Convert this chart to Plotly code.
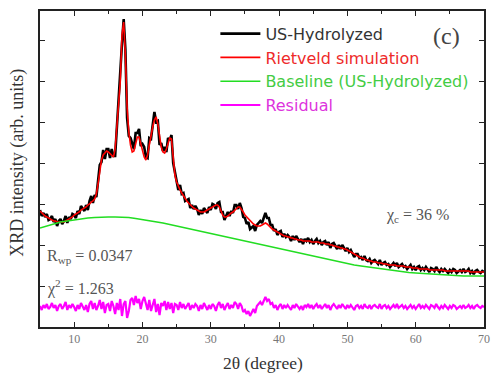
import numpy as np
import plotly.graph_objects as go

# 2-theta grid (degrees), step 0.25
two_theta = np.round(np.arange(5.0, 70.0001, 0.25), 2)

# Rietveld calculated profile (arb. units), 4 values per degree from 5.00
calc = [
    116, 114, 112, 111,   # 5
    110, 109, 108, 107,   # 6
    106, 106, 105, 105,   # 7
    105, 105, 105, 106,   # 8
    107, 108, 109, 110,   # 9
    112, 113, 114, 115,   # 10
    117, 118, 119, 120,   # 11
    122, 123, 125, 126,   # 12
    128, 133, 143, 155,   # 13
    167, 172, 174, 176,   # 14
    175, 173, 172, 170,   # 15
    178, 198, 225, 245,   # 16
    292, 305, 272, 220,   # 17
    195, 182, 175, 176,   # 18
    183, 190, 190, 183,   # 19
    177, 170, 167, 172,   # 20
    182, 192, 200, 207,   # 21
    210, 203, 190, 180,   # 22
    175, 174, 178, 184,   # 23
    189, 188, 170, 152,   # 24
    145, 140, 137, 134,   # 25
    131, 128, 126, 124,   # 26
    122, 120, 119, 118,   # 27
    117, 116, 115, 115,   # 28
    115, 116, 117, 118,   # 29
    119, 120, 121, 122,   # 30
    122, 120, 116, 112,   # 31
    110, 110, 111, 113,   # 32
    114, 115, 117, 119,   # 33
    120, 120, 118, 115,   # 34
    112, 110, 109, 107,   # 35
    105, 103, 102, 101,   # 36
    101, 101, 102, 103,   # 37
    104, 103, 101, 99,    # 38
    98, 97, 96, 95,       # 39
    94, 93, 92, 91,       # 40
    91, 90, 90, 89,       # 41
    89, 88, 88, 87,       # 42
    87, 87, 86, 86,       # 43
    86, 86, 86, 85,       # 44
    85, 85, 85, 85,       # 45
    84, 84, 84, 83,       # 46
    83, 83, 82, 82,       # 47
    81, 81, 80, 80,       # 48
    79, 79, 78, 78,       # 49
    77, 76, 75, 74,       # 50
    73, 72, 71, 70,       # 51
    69, 69, 68, 67,       # 52
    67, 66, 66, 65,       # 53
    65, 65, 64, 64,       # 54
    64, 63, 63, 63,       # 55
    62, 62, 62, 62,       # 56
    62, 61, 61, 61,       # 57
    61, 61, 60, 60,       # 58
    60, 60, 59, 59,       # 59
    59, 59, 58, 58,       # 60
    58, 58, 58, 58,       # 61
    57, 57, 57, 57,       # 62
    57, 57, 57, 57,       # 63
    57, 56, 56, 56,       # 64
    56, 56, 56, 56,       # 65
    56, 56, 56, 56,       # 66
    56, 56, 56, 56,       # 67
    55, 55, 55, 55,       # 68
    55, 55, 55, 55,       # 69
    55,                   # 70
]

# Observed minus calculated (arb. units), same grid
difference = [
    1, -3, 2, -1,      # 5
    3, -2, 0, 4,       # 6
    -1, 2, -4, 1,      # 7
    3, -2, 1, 5,       # 8
    -3, 2, -1, 3,      # 9
    0, -4, 2, -2,      # 10
    4, 1, -3, 2,       # 11
    -5, 3, 6, -2,      # 12
    4, -3, 1, 7,       # 13
    -2, 5, -6, 2,      # 14
    3, -4, 6, 1,       # 15
    -7, 4, -3, 8,      # 16
    -9, 3, 6, -11,     # 17
    -4, 7, 9, 2,       # 18
    11, 4, 8, -2,      # 19
    6, 10, 3, -3,      # 20
    7, -4, 2, 8,       # 21
    -5, 3, -8, 4,      # 22
    1, 6, -3, 5,       # 23
    -2, 4, -6, 3,      # 24
    2, -3, 5, -1,      # 25
    3, -2, 1, 4,       # 26
    -3, 2, -1, 3,      # 27
    1, -4, 2, -2,      # 28
    4, 0, -3, 2,       # 29
    -2, 3, 1, -4,      # 30
    2, 5, -1, 3,       # 31
    -3, 1, 4, -2,      # 32
    2, -1, 5, 3,       # 33
    -2, 4, 1, -5,      # 34
    -3, -7, -4, -9,    # 35
    -5, -2, -6, 1,     # 36
    3, 5, 2, 7,        # 37
    10, 6, 8, 3,       # 38
    4, -1, 2, -3,      # 39
    1, 3, -2, 2,       # 40
    -1, 2, 0, -3,      # 41
    2, -1, 3, 1,       # 42
    -2, 1, -3, 2,      # 43
    0, 3, -1, 2,       # 44
    -2, 1, 3, -1,      # 45
    2, -2, 1, 3,       # 46
    -1, 2, -3, 1,      # 47
    3, 0, -2, 2,       # 48
    -1, 3, 1, -2,      # 49
    2, -1, 2, 0,       # 50
    -3, 1, 2, -1,      # 51
    1, -2, 3, 0,       # 52
    -1, 2, -2, 1,      # 53
    2, 0, -1, 3,       # 54
    -2, 1, 2, -1,      # 55
    1, -2, 0, 2,       # 56
    -1, 3, -1, 1,      # 57
    2, -1, 1, -2,      # 58
    0, 2, -1, 1,       # 59
    -2, 1, 3, -1,      # 60
    1, -1, 2, 0,       # 61
    -2, 2, 1, -1,      # 62
    3, 0, -2, 1,       # 63
    -1, 2, 0, -2,      # 64
    1, -1, 2, 1,       # 65
    -2, 0, 1, -1,      # 66
    2, -1, 0, 2,       # 67
    -1, 1, -2, 1,      # 68
    2, 0, -1, 1,       # 69
    0,                 # 70
]

# Baseline (amorphous background), one value per degree 5..70
baseline_theta = list(range(5, 71))
baseline = [
    99, 101, 103, 105, 106, 107, 108.5, 109, 109.5, 110,
    110, 110, 110, 109.5, 108.5, 107.5, 106.5, 105.5, 104, 102.5,
    101, 99.5, 98, 96, 94.5, 93, 91.5, 90, 88.5, 87,
    85.5, 84, 82.5, 81, 80, 78.5, 77, 75.5, 74, 72.5,
    71, 69.5, 68, 66.5, 65, 63.5, 62, 61, 60, 59,
    58, 57, 56, 55, 54.5, 54, 53.5, 53, 52.5, 52,
    51.5, 51.5, 51, 51, 51, 51,
]

residual_offset = 20

assert len(calc) == len(two_theta) == len(difference)
assert len(baseline) == len(baseline_theta)

calc_arr = np.array(calc, dtype=float)
diff_arr = np.array(difference, dtype=float)
observed = calc_arr + diff_arr
residual = diff_arr + residual_offset

serif = "Liberation Serif, Times New Roman, serif"
sans = "DejaVu Sans, Arial, sans-serif"

fig = go.Figure()
fig.add_trace(go.Scatter(
    x=two_theta, y=observed, mode="lines",
    line=dict(color="#000000", width=2.6),
    name="<span style='color:#333333'>US-Hydrolyzed</span>"))
fig.add_trace(go.Scatter(
    x=two_theta, y=calc_arr, mode="lines",
    line=dict(color="#ff0000", width=1.6),
    name="<span style='color:#ee2a2a'>Rietveld simulation</span>"))
fig.add_trace(go.Scatter(
    x=baseline_theta, y=baseline, mode="lines",
    line=dict(color="#22dd22", width=1.6),
    name="<span style='color:#44cc44'>Baseline (US-Hydrolyzed)</span>"))
fig.add_trace(go.Scatter(
    x=two_theta, y=residual, mode="lines",
    line=dict(color="#ff00ff", width=2.2),
    name="<span style='color:#dd33dd'>Residual</span>"))

axis_common = dict(
    showline=True, linecolor="#222222", linewidth=1.5, mirror="ticks",
    ticks="inside", tickcolor="#222222", tickwidth=1.3, ticklen=5,
    showgrid=False, zeroline=False,
)

fig.update_xaxes(
    range=[5, 70], tick0=0, dtick=10,
    tickfont=dict(family=serif, size=12, color="#777777"),
    ticklabeloverflow="allow",
    minor=dict(dtick=5, ticks="inside", ticklen=3, tickcolor="#222222", tickwidth=1.2),
    **axis_common)
fig.update_yaxes(
    range=[0, 316], tick0=0, dtick=41, showticklabels=False,
    **axis_common)

# axis titles
fig.add_annotation(x=0.503, y=-0.114, xref="paper", yref="paper", xanchor="center", yanchor="middle",
                   text="2θ (degree)", showarrow=False,
                   font=dict(family=serif, size=17.5, color="#333333"))
fig.add_annotation(x=-0.05, y=0.519, xref="paper", yref="paper", xanchor="center", yanchor="middle",
                   text="XRD intensity (arb. units)", showarrow=False, textangle=-90,
                   font=dict(family=serif, size=18, color="#333333"))

fig.add_annotation(x=0.012, y=0.222, xref="paper", yref="paper", xanchor="left", yanchor="middle",
                   text="R<sub>wp</sub> = 0.0347", showarrow=False,
                   font=dict(family=serif, size=16, color="#555555"))
fig.add_annotation(x=0.012, y=0.126, xref="paper", yref="paper", xanchor="left", yanchor="middle",
                   text="χ<sup>2</sup> = 1.263", showarrow=False,
                   font=dict(family=serif, size=16, color="#555555"))
fig.add_annotation(x=0.775, y=0.352, xref="paper", yref="paper", xanchor="left", yanchor="middle",
                   text="χ<sub>c</sub> = 36 %", showarrow=False,
                   font=dict(family=serif, size=16, color="#555555"))
fig.add_annotation(x=0.915, y=0.92, xref="paper", yref="paper", xanchor="center", yanchor="middle",
                   text="(c)", showarrow=False,
                   font=dict(family=serif, size=24, color="#444444"))

fig.update_layout(
    width=492, height=373,
    margin=dict(l=40, r=2, t=11, b=46),
    paper_bgcolor="white", plot_bgcolor="white",
    showlegend=True,
    legend=dict(x=0.395, y=0.982, xanchor="left", yanchor="top",
                bgcolor="rgba(0,0,0,0)", borderwidth=0,
                font=dict(family=sans, size=16), tracegroupgap=0,
                itemwidth=40),
)

fig.write_html("out.html")
